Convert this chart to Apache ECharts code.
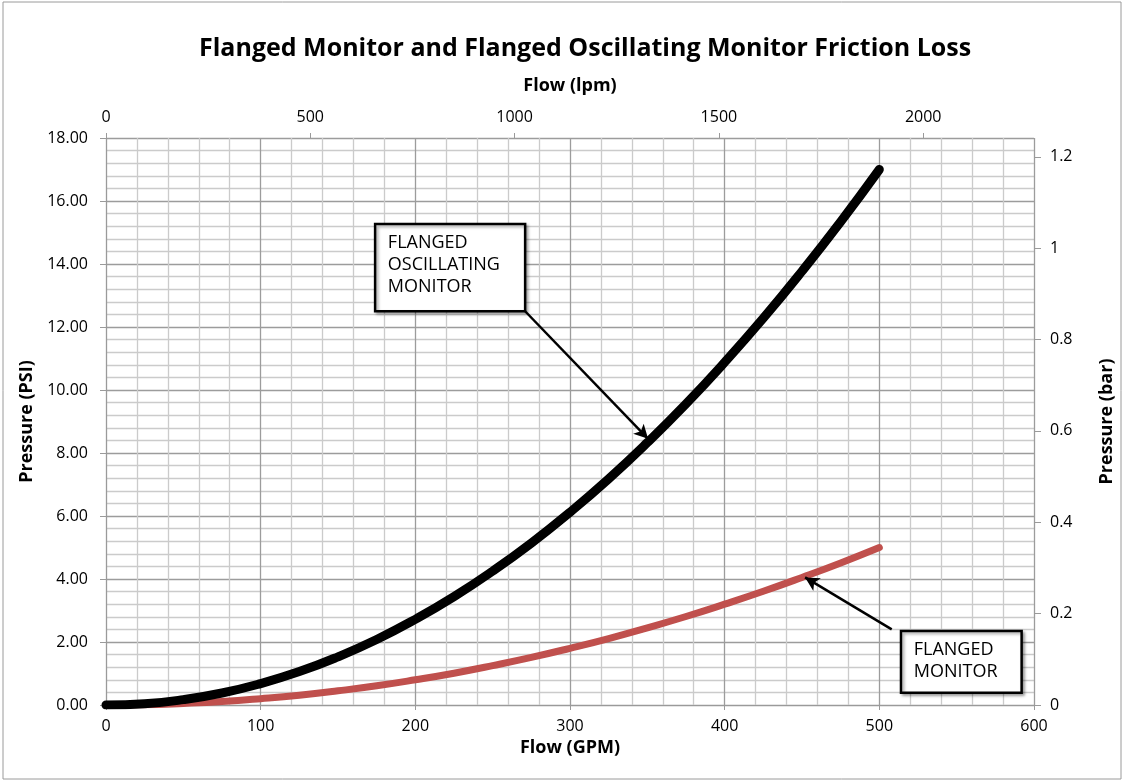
<!DOCTYPE html>
<html>
<head>
<meta charset="utf-8">
<script src="https://cdn.jsdelivr.net/npm/echarts@6/dist/echarts.min.js"></script>
<style>
  html, body { margin: 0; padding: 0; background: #fff; }
  #chart { width: 1124px; height: 781px; }
</style>
</head>
<body>
<div id="chart"></div>
<script>
// values
var flowGpm = [0, 25, 50, 75, 100, 125, 150, 175, 200, 225, 250, 275, 300, 325, 350, 375, 400, 425, 450, 475, 500];
var oscillatingPsi = [0, 0.04, 0.17, 0.38, 0.68, 1.06, 1.53, 2.08, 2.72, 3.44, 4.25, 5.14, 6.12, 7.18, 8.33, 9.56, 10.88, 12.28, 13.77, 15.34, 17.0];
var monitorPsi = [0, 0.01, 0.05, 0.11, 0.2, 0.31, 0.45, 0.61, 0.8, 1.01, 1.25, 1.51, 1.8, 2.11, 2.45, 2.81, 3.2, 3.61, 4.05, 4.51, 5.0];

var gpmMax = 600;
var psiMax = 18;
var lpmPerGpm = 3.7854;
var barPerPsi = 1 / 14.5038;

function pairs(xs, ys) {
  return xs.map(function (x, i) { return [x, ys[i]]; });
}

var font = '"Open Sans", Lato, sans-serif';
var chart = echarts.init(document.getElementById('chart'));

var boxStyle = {
  color: '#fff',
  borderColor: '#000',
  borderWidth: 2.5,
  opacity: 1,
  shadowBlur: 3,
  shadowOffsetX: 2,
  shadowOffsetY: 2,
  shadowColor: 'rgba(0,0,0,0.35)'
};
var boxLabel = {
  show: true,
  position: 'insideTopLeft',
  distance: 14,
  offset: [0, -5],
  color: '#000',
  fontFamily: font,
  fontSize: 18,
  lineHeight: 22
};
var arrowLine = {
  silent: true,
  symbol: ['none', 'arrow'],
  symbolSize: [11, 14],
  lineStyle: { color: '#000', width: 2.5, type: 'solid' },
  label: { show: false }
};
var nameStyle = { fontFamily: font, fontSize: 18, fontWeight: 'bold', color: '#000' };
var labelStyle = { fontFamily: font, fontSize: 16, color: '#000' };

var option = {
  animation: false,
  title: {
    text: 'Flanged Monitor and Flanged Oscillating Monitor Friction Loss',
    left: 194,
    top: 31,
    textStyle: { fontFamily: font, fontSize: 25, fontWeight: 'bold', color: '#000' }
  },
  graphic: [{
    type: 'rect',
    shape: { x: 3, y: 2, width: 1118, height: 777 },
    style: { fill: 'none', stroke: '#9a9a9a', lineWidth: 1 },
    silent: true
  }],
  grid: { left: 106, right: 84, top: 138, bottom: 76 },
  xAxis: [{
    type: 'value',
    position: 'bottom',
    min: 0,
    max: gpmMax,
    interval: 100,
    name: 'Flow (GPM)',
    nameLocation: 'middle',
    nameGap: 34,
    nameTextStyle: nameStyle,
    axisLine: { show: true, lineStyle: { color: '#9a9a9a' } },
    axisTick: { show: true, length: 5, lineStyle: { color: '#9a9a9a' } },
    axisLabel: Object.assign({ margin: 13 }, labelStyle),
    splitLine: { show: true, lineStyle: { color: '#9c9c9c', width: 1.3 } },
    minorTick: { show: false, splitNumber: 5 },
    minorSplitLine: { show: true, lineStyle: { color: '#cbcbcb', width: 1.3 } }
  }, {
    type: 'value',
    position: 'top',
    min: 0,
    max: gpmMax * lpmPerGpm,
    interval: 500,
    name: 'Flow (lpm)',
    nameLocation: 'middle',
    nameGap: 43,
    nameTextStyle: nameStyle,
    axisLine: { show: false, onZero: false },
    axisTick: { show: true, length: 5, lineStyle: { color: '#9a9a9a' } },
    axisLabel: Object.assign({
      margin: 13, showMaxLabel: false,
      formatter: function (v) { return String(v); }
    }, labelStyle),
    splitLine: { show: false }
  }],
  yAxis: [{
    type: 'value',
    position: 'left',
    min: 0,
    max: psiMax,
    interval: 2,
    name: 'Pressure (PSI)',
    nameLocation: 'middle',
    nameGap: 63,
    nameTextStyle: nameStyle,
    axisLine: { show: true, lineStyle: { color: '#9a9a9a' } },
    axisTick: { show: true, length: 6, lineStyle: { color: '#9a9a9a' } },
    axisLabel: Object.assign({
      margin: 18,
      formatter: function (v) { return v.toFixed(2); }
    }, labelStyle),
    splitLine: { show: true, lineStyle: { color: '#9c9c9c', width: 1.3 } },
    minorTick: { show: false, splitNumber: 5 },
    minorSplitLine: { show: true, lineStyle: { color: '#cbcbcb', width: 1.3 } }
  }, {
    type: 'value',
    position: 'right',
    min: 0,
    max: psiMax * barPerPsi,
    interval: 0.2,
    name: 'Pressure (bar)',
    nameLocation: 'middle',
    nameGap: 64,
    nameTextStyle: nameStyle,
    axisLine: { show: false, onZero: false },
    axisTick: { show: true, length: 7, lineStyle: { color: '#9a9a9a' } },
    axisLabel: Object.assign({
      margin: 16, showMaxLabel: false,
      formatter: function (v) { return String(+v.toFixed(1)); }
    }, labelStyle),
    splitLine: { show: false }
  }],
  series: [{
    name: 'Flanged Monitor',
    type: 'line',
    smooth: true,
    showSymbol: false,
    data: pairs(flowGpm, monitorPsi),
    lineStyle: { color: '#c0504d', width: 7, cap: 'round' },
    z: 3,
    markArea: {
      silent: true,
      itemStyle: boxStyle,
      label: boxLabel,
      data: [[{ name: 'FLANGED\nMONITOR', coord: [514, 2.35] }, { coord: [592, 0.39] }]]
    },
    markLine: Object.assign({
      data: [[{ coord: [508, 2.4] }, { coord: [452, 4.05] }]]
    }, arrowLine)
  }, {
    name: 'Flanged Oscillating Monitor',
    type: 'line',
    smooth: true,
    showSymbol: false,
    data: pairs(flowGpm, oscillatingPsi),
    lineStyle: { color: '#000', width: 9, cap: 'round' },
    z: 4,
    markArea: {
      silent: true,
      itemStyle: boxStyle,
      label: boxLabel,
      data: [[{ name: 'FLANGED\nOSCILLATING\nMONITOR', coord: [174, 15.27] }, { coord: [271, 12.5] }]]
    },
    markLine: Object.assign({
      data: [[{ coord: [271, 12.5] }, { coord: [350.5, 8.45] }]]
    }, arrowLine)
  }]
};

chart.setOption(option);
</script>
</body>
</html>
